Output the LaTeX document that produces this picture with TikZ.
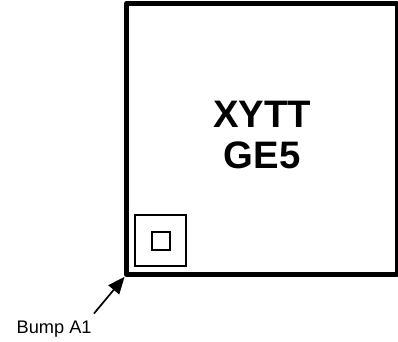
\documentclass[tikz,border=0pt]{standalone}
\usepackage{fontspec}
\setmainfont{Liberation Sans}
\usetikzlibrary{arrows.meta}
\tikzset{
  chip/.style={draw=black,line width=4.6pt,line join=round,minimum width=270.5pt,minimum height=270.8pt,inner sep=0pt,outer sep=0pt,anchor=north west},
  padbox/.style={draw=black,line width=1.9pt,inner sep=0pt,outer sep=0pt,anchor=center},
  title/.style={font=\bfseries\fontsize{38.3}{38.3}\selectfont,inner sep=0pt,anchor=base},
  note/.style={font=\fontsize{18.2}{18.2}\selectfont,inner sep=0pt,anchor=base west},
  pointer/.style={draw=black,line width=1.7pt,shorten >=3pt,-{Triangle[length=17pt,width=14pt]}}
}
\begin{document}
\begin{tikzpicture}[x=1pt,y=-1pt]
\useasboundingbox (0,0) rectangle (398,341);
\node[chip] (chip) at (126.5,3.7) {};
\node[padbox,minimum width=51pt,minimum height=51pt] (outer) at (160.8,240.7) {};
\node[padbox,minimum width=17.5pt,minimum height=17.5pt] (inner) at (160.8,240.8) {};
\node[title] (t1) at (262,127) {XYTT};
\node[title] (t2) at (262,168) {GE5};
\node[note] (bump) at (16.5,333) {Bump A1};
\coordinate (tail) at (94,313.5);
\draw[pointer] (tail) -- (chip.south west);
\end{tikzpicture}
\end{document}
